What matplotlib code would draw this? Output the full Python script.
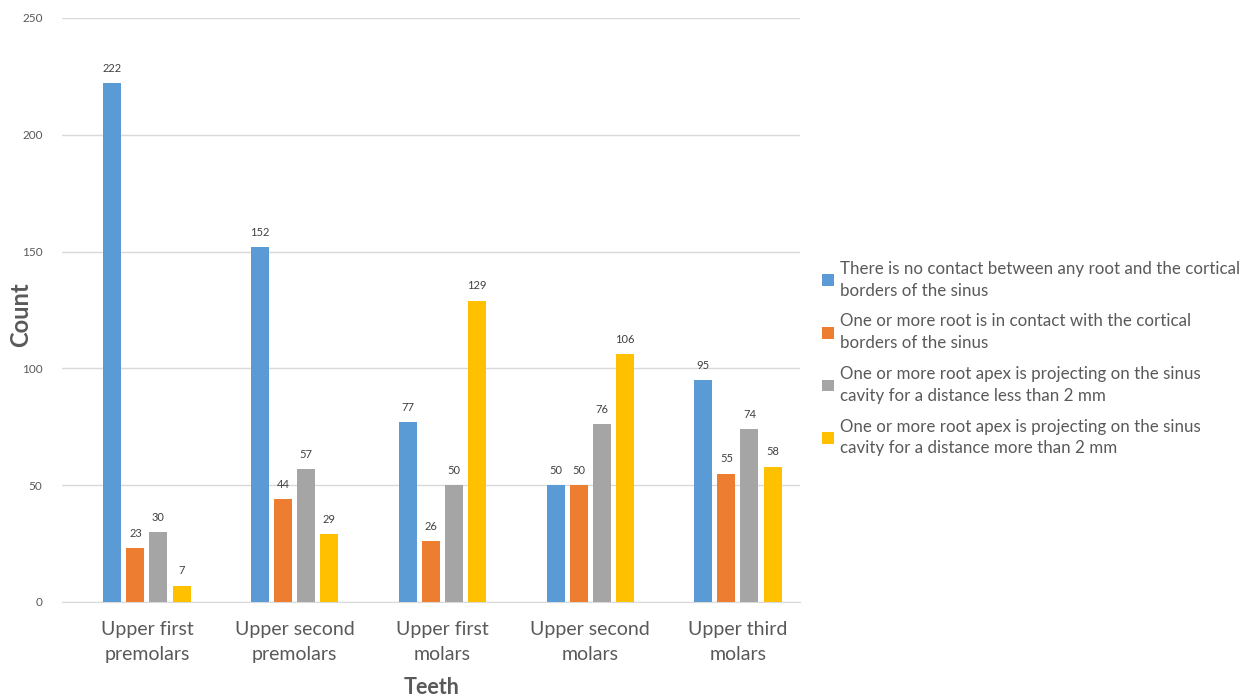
import numpy as np
import matplotlib
matplotlib.use('Agg')
import matplotlib.pyplot as plt

plt.rcParams['font.family'] = ['Lato', 'DejaVu Sans']

teeth = ['Upper first\npremolars', 'Upper second\npremolars', 'Upper first\nmolars',
         'Upper second\nmolars', 'Upper third\nmolars']
no_contact = [222, 152, 77, 50, 95]
contact = [23, 44, 26, 50, 55]
apex_less_2mm = [30, 57, 50, 76, 74]
apex_more_2mm = [7, 29, 129, 106, 58]

series_labels = [
    'There is no contact between any root and the cortical\nborders of the sinus',
    'One or more root is in contact with the cortical\nborders of the sinus',
    'One or more root apex is projecting on the sinus\ncavity for a distance less than 2 mm',
    'One or more root apex is projecting on the sinus\ncavity for a distance more than 2 mm',
]
colors = ['#5B9BD5', '#ED7D31', '#A5A5A5', '#FFC000']

fig = plt.figure(figsize=(12.48, 7.0), dpi=100)
ax = fig.add_axes([62 / 1248, 98 / 700, 738 / 1248, 584 / 700])

x = np.arange(len(teeth))
step = 0.156
width = 0.122
all_series = [no_contact, contact, apex_less_2mm, apex_more_2mm]
for i, (vals, col, lab) in enumerate(zip(all_series, colors, series_labels)):
    pos = x + (i - 1.5) * step
    bars = ax.bar(pos, vals, width, color=col, label=lab, zorder=3)
    for b, v in zip(bars, vals):
        ax.text(b.get_x() + b.get_width() / 2, v + 4, str(v), ha='center', va='bottom',
                fontsize=8, color='#404040')

ax.set_xlim(-0.575, 4.42)
ax.set_ylim(0, 250)
ax.set_yticks(range(0, 251, 50))
ax.set_xticks(x)
ax.set_xticklabels(teeth, fontsize=14, color='#595959', linespacing=1.55)
ax.tick_params(axis='y', labelsize=8.5, colors='#595959', length=0, pad=14)
ax.tick_params(axis='x', length=0, pad=14)
ax.grid(axis='y', color='#D9D9D9', linewidth=1, zorder=0)
for s in ['top', 'right', 'left']:
    ax.spines[s].set_visible(False)
ax.spines['bottom'].set_color('#D9D9D9')

ax.set_xlabel('Teeth', fontsize=15.5, fontweight='bold', color='#595959')
ax.xaxis.set_label_coords(0.501, -(687 - 602) / 584, transform=ax.transAxes)
ax.xaxis.label.set_va('center')
ax.set_ylabel('Count', fontsize=17, fontweight='bold', color='#595959')
ax.yaxis.set_label_coords(-(62 - 21) / 738, (602 - 315) / 584, transform=ax.transAxes)
ax.yaxis.label.set_va('center')

leg = fig.legend(loc='upper left', bbox_to_anchor=(815 / 1248, 1 - 254 / 700), frameon=False,
                 fontsize=12.2, labelcolor='#595959', handlelength=0.7, handleheight=0.7,
                 handletextpad=0.4, labelspacing=0.87, borderaxespad=0)
for t in leg.get_texts():
    t.set_linespacing(1.45)

fig.savefig('out.png', dpi=100)
